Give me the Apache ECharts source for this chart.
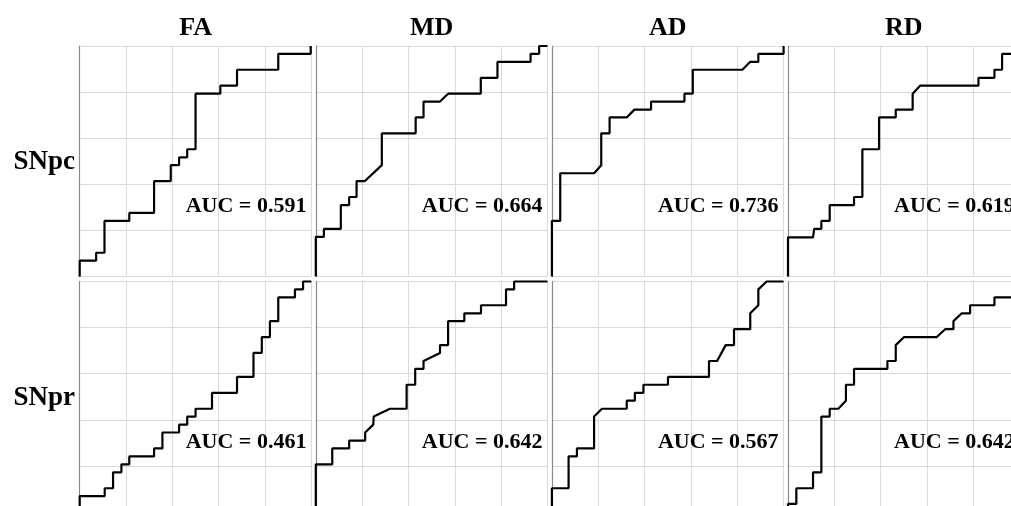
<!DOCTYPE html>
<html>
<head>
<meta charset="utf-8">
<script src="https://cdn.jsdelivr.net/npm/echarts@6/dist/echarts.min.js"></script>
<style>html,body{margin:0;padding:0;background:#fff;overflow:hidden;width:1011px;height:506px;}#c{width:1030px;height:520px;}</style>
</head>
<body>
<div id="c"></div>
<script>
// ---- data (FPR, TPR) ----
const columns = ['FA', 'MD', 'AD', 'RD'];
const rows = ['SNpc', 'SNpr'];
const aucSNpc = ['0.591', '0.664', '0.736', '0.619'];
const aucSNpr = ['0.461', '0.642', '0.567', '0.642'];

const FA_SNpc = [[0,0],[0,0.069],[0.071,0.069],[0.071,0.103],[0.107,0.103],[0.107,0.241],[0.214,0.241],[0.214,0.276],[0.321,0.276],[0.321,0.414],[0.393,0.414],[0.393,0.483],[0.429,0.483],[0.429,0.517],[0.464,0.517],[0.464,0.552],[0.5,0.552],[0.5,0.793],[0.607,0.793],[0.607,0.828],[0.679,0.828],[0.679,0.897],[0.857,0.897],[0.857,0.966],[0.997,0.966],[0.997,1],[1,1]];
const MD_SNpc = [[0,0],[0,0.172],[0.035,0.172],[0.035,0.207],[0.108,0.207],[0.108,0.31],[0.144,0.31],[0.144,0.345],[0.176,0.345],[0.176,0.414],[0.212,0.414],[0.285,0.483],[0.285,0.621],[0.431,0.621],[0.431,0.69],[0.465,0.69],[0.465,0.759],[0.536,0.759],[0.571,0.793],[0.712,0.793],[0.712,0.862],[0.784,0.862],[0.784,0.931],[0.927,0.931],[0.927,0.966],[0.964,0.966],[0.964,1],[1,1]];
const AD_SNpc = [[0,0],[0,0.241],[0.036,0.241],[0.036,0.448],[0.182,0.448],[0.213,0.483],[0.213,0.621],[0.249,0.621],[0.249,0.69],[0.323,0.69],[0.356,0.724],[0.428,0.724],[0.428,0.759],[0.572,0.759],[0.572,0.793],[0.608,0.793],[0.608,0.897],[0.822,0.897],[0.855,0.931],[0.891,0.931],[0.891,0.966],[1,0.966],[1,1]];
const RD_SNpc = [[0,0],[0,0.17],[0.108,0.17],[0.113,0.207],[0.144,0.207],[0.144,0.241],[0.18,0.241],[0.18,0.31],[0.285,0.31],[0.285,0.345],[0.321,0.345],[0.321,0.552],[0.393,0.552],[0.393,0.69],[0.465,0.69],[0.465,0.724],[0.538,0.724],[0.538,0.793],[0.57,0.828],[0.822,0.828],[0.822,0.862],[0.891,0.862],[0.891,0.897],[0.924,0.897],[0.924,0.966],[1,0.966],[1,1]];

const FA_SNpr = [[0,0],[0,0.069],[0.108,0.069],[0.108,0.103],[0.144,0.103],[0.144,0.172],[0.18,0.172],[0.18,0.207],[0.214,0.207],[0.214,0.241],[0.321,0.241],[0.321,0.276],[0.357,0.276],[0.357,0.345],[0.429,0.345],[0.429,0.379],[0.464,0.379],[0.464,0.414],[0.5,0.414],[0.5,0.448],[0.571,0.448],[0.571,0.517],[0.679,0.517],[0.679,0.586],[0.75,0.586],[0.75,0.69],[0.786,0.69],[0.786,0.759],[0.821,0.759],[0.821,0.828],[0.857,0.828],[0.857,0.931],[0.929,0.931],[0.929,0.966],[0.964,0.966],[0.964,1],[1,1]];
const MD_SNpr = [[0,0],[0,0.207],[0.071,0.207],[0.071,0.276],[0.144,0.276],[0.144,0.31],[0.213,0.31],[0.213,0.345],[0.248,0.379],[0.25,0.414],[0.32,0.448],[0.392,0.448],[0.392,0.552],[0.429,0.552],[0.429,0.621],[0.465,0.621],[0.465,0.655],[0.536,0.69],[0.536,0.724],[0.571,0.724],[0.571,0.828],[0.641,0.828],[0.641,0.862],[0.713,0.862],[0.713,0.897],[0.821,0.897],[0.821,0.966],[0.856,0.966],[0.856,1],[1,1]];
const AD_SNpr = [[0,0],[0,0.103],[0.072,0.103],[0.072,0.241],[0.108,0.241],[0.108,0.276],[0.182,0.276],[0.182,0.414],[0.216,0.448],[0.323,0.448],[0.323,0.483],[0.358,0.483],[0.358,0.517],[0.395,0.517],[0.395,0.552],[0.501,0.552],[0.501,0.586],[0.678,0.586],[0.678,0.655],[0.713,0.655],[0.75,0.724],[0.786,0.724],[0.786,0.793],[0.856,0.793],[0.856,0.862],[0.891,0.897],[0.891,0.966],[0.927,1],[1,1]];
const RD_SNpr = [[0,0],[0,0.035],[0.036,0.035],[0.036,0.103],[0.108,0.103],[0.108,0.172],[0.144,0.172],[0.144,0.414],[0.18,0.414],[0.18,0.448],[0.217,0.448],[0.25,0.483],[0.25,0.552],[0.285,0.552],[0.285,0.621],[0.429,0.621],[0.429,0.655],[0.465,0.655],[0.465,0.724],[0.501,0.759],[0.642,0.759],[0.678,0.793],[0.714,0.793],[0.714,0.828],[0.75,0.862],[0.786,0.862],[0.786,0.897],[0.891,0.897],[0.891,0.931],[1,0.931],[1,1]];

const curves = [
  [FA_SNpc, MD_SNpc, AD_SNpc, RD_SNpc],
  [FA_SNpr, MD_SNpr, AD_SNpr, RD_SNpr]
];
const aucs = [aucSNpc, aucSNpr];
const axisTicks = [0, 0.2, 0.4, 0.6, 0.8, 1];

// ---- layout ----
const FONT = '"Liberation Serif", "Times New Roman", serif';
const L0 = 79.7, DX = 236.1, W = 231.7, H = 230.5;
const TOPS = [46, 281.5];

const grids = [], xAxes = [], yAxes = [], series = [], graphics = [];
let k = 0;
for (let r = 0; r < 2; r++) {
  for (let c = 0; c < 4; c++) {
    const left = L0 + DX * c, top = TOPS[r];
    grids.push({ left: left, top: top, width: W, height: H, containLabel: false });
    xAxes.push({
      type: 'value', gridIndex: k, min: axisTicks[0], max: axisTicks[axisTicks.length - 1], interval: 0.2,
      axisLabel: { show: false }, axisTick: { show: false }, axisLine: { show: false },
      splitLine: { show: true, lineStyle: { color: '#dadada', width: 1 } }
    });
    yAxes.push({
      type: 'value', gridIndex: k, min: axisTicks[0], max: axisTicks[axisTicks.length - 1], interval: 0.2,
      axisLabel: { show: false }, axisTick: { show: false },
      axisLine: { show: true, lineStyle: { color: '#8a8a8a', width: 1.2 } },
      splitLine: { show: true, lineStyle: { color: '#dadada', width: 1 } }
    });
    series.push({
      type: 'line', xAxisIndex: k, yAxisIndex: k, data: curves[r][c],
      showSymbol: false, clip: false, animation: false, z: 5,
      lineStyle: { color: '#000', width: 2.2 }
    });
    graphics.push({
      type: 'text', left: left + 106, top: top + 0.70 * H - 12, z: 10,
      style: { text: 'AUC = ' + aucs[r][c], font: 'bold 22px ' + FONT, fill: '#000' }
    });
    k++;
  }
}
for (let c = 0; c < 4; c++) {
  graphics.push({
    type: 'text', x: L0 + DX * c + W / 2, y: 28, z: 10,
    style: { text: columns[c], font: 'bold 26px ' + FONT, fill: '#000', align: 'center', verticalAlign: 'middle' }
  });
}
for (let r = 0; r < 2; r++) {
  graphics.push({
    type: 'text', x: 75, y: TOPS[r] + H / 2 + 1, z: 10,
    style: { text: rows[r], font: 'bold 27px ' + FONT, fill: '#000', align: 'right', verticalAlign: 'middle' }
  });
}

const chart = echarts.init(document.getElementById('c'), null, { renderer: 'canvas' });
chart.setOption({
  backgroundColor: '#fff',
  animation: false,
  grid: grids,
  xAxis: xAxes,
  yAxis: yAxes,
  series: series,
  graphic: graphics
});
</script>
</body>
</html>
